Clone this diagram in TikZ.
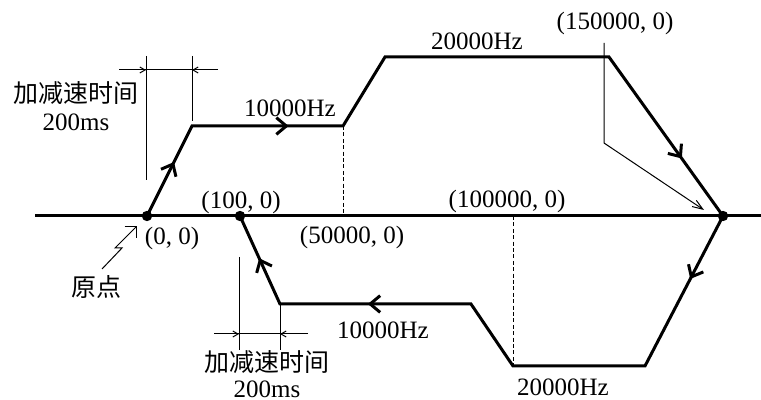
\documentclass[tikz,border=0pt]{standalone}
\usepackage{fontspec}
\setmainfont{Liberation Serif}
\newfontfamily\cjk{Noto Sans CJK SC}
\usetikzlibrary{arrows.meta,decorations.markings}
\tikzset{
  curve/.style={line width=1.5pt, line join=miter},
  thinline/.style={line width=0.5pt},
  lbl/.style={inner sep=0pt, font=\fontsize{12.5}{15}\selectfont},
  cjklbl/.style={inner sep=0pt, font=\cjk\fontsize{12.5}{15}\selectfont},
  midarrow/.style={line width=1.5pt, postaction={decorate, decoration={markings,
    mark=at position #1 with {\arrow{Straight Barb[angle=80:6.5pt]}}}}},
  dimarrow/.style={thinline, -{Straight Barb[angle=60:3pt]}}
}
\begin{document}
\begin{tikzpicture}[x=0.5pt, y=-0.5pt]
    \useasboundingbox (0,0) rectangle (761,400);
    % 坐标轴
    \draw[curve] (35,216) -- (761,216);

    % 正转路线的拐点
    \coordinate (O) at (147,216);
    \coordinate (a1) at (192,126);
    \coordinate (a2) at (343,126);
    \coordinate (a3) at (385,57);
    \coordinate (a4) at (609,57);
    \coordinate (R) at (723,216);
    % 反转路线的拐点
    \coordinate (b1) at (645,366);
    \coordinate (b2) at (513,366);
    \coordinate (b3) at (471,304);
    \coordinate (b4) at (280,304);
    \coordinate (P) at (240,216);

    \draw[curve] (O) -- (a1) -- (a2) -- (a3) -- (a4) -- (R)
        -- (b1) -- (b2) -- (b3) -- (b4) -- (P);
    \path[midarrow=0.6] (O) -- (a1);
    \path[midarrow=0.64] (a1) -- (a2);
    \path[midarrow=0.64] (a4) -- (R);
    \path[midarrow=0.42] (R) -- (b1);
    \path[midarrow=0.54] (b3) -- (b4);
    \path[midarrow=0.52] (b4) -- (P);

    \fill (O) circle[radius=2.6pt];
    \fill (P) circle[radius=2.6pt];
    \fill (R) circle[radius=2.6pt];

    % 虚线
    \draw[thinline, dash pattern=on 2pt off 1.2pt] (a2) -- (343,216);
    \draw[thinline, dash pattern=on 2pt off 1.2pt] (513,216) -- (b2);

    % 上方加减速时间
    \draw[thinline] (146,56) -- (146,180);
    \draw[thinline] (192,56) -- (192,121);
    \draw[thinline] (119,70) -- (218,70);
    \draw[dimarrow] (119,70) -- (146,70);
    \draw[dimarrow] (218,70) -- (192,70);
    \node[cjklbl] (t1) at (76,93) {加减速时间};
    \node[lbl] (ms1) at (76,122) {200ms};

    % 下方加减速时间
    \draw[thinline] (239,257) -- (239,350);
    \draw[thinline] (280,305) -- (280,350);
    \draw[thinline] (214,334) -- (308,334);
    \draw[dimarrow] (214,334) -- (239,334);
    \draw[dimarrow] (308,334) -- (280,334);
    \node[cjklbl] (t2) at (267,362) {加减速时间};
    \node[lbl] (ms2) at (267,389) {200ms};

    % 速度与地址
    \node[lbl] (f1) at (290,108) {10000Hz};
    \node[lbl] (f2) at (477,41) {20000Hz};
    \node[lbl] (f3) at (383,330) {10000Hz};
    \node[lbl] (f4) at (563,387) {20000Hz};
    \node[lbl] (p0) at (172,238) {(0, 0)};
    \node[lbl] (p1) at (241,202) {(100, 0)};
    \node[lbl] (p2) at (352,237) {(50000, 0)};
    \node[lbl] (p3) at (507,201) {(100000, 0)};
    \node[lbl] (p4) at (615,23) {(150000, 0)};

    % 原点
    \node[cjklbl] (org) at (96,287) {原点};
    \draw[thinline, -{Straight Barb[angle=90:6pt]}] (102,269) -- (122,248) -- (115,248) -- (137,226);

    % 150000 指向
    \coordinate (k) at (604,143);
    \draw[thinline, -{Straight Barb[angle=40:5.5pt]}] (604,43) -- (k) -- (704,210);
\end{tikzpicture}
\end{document}
